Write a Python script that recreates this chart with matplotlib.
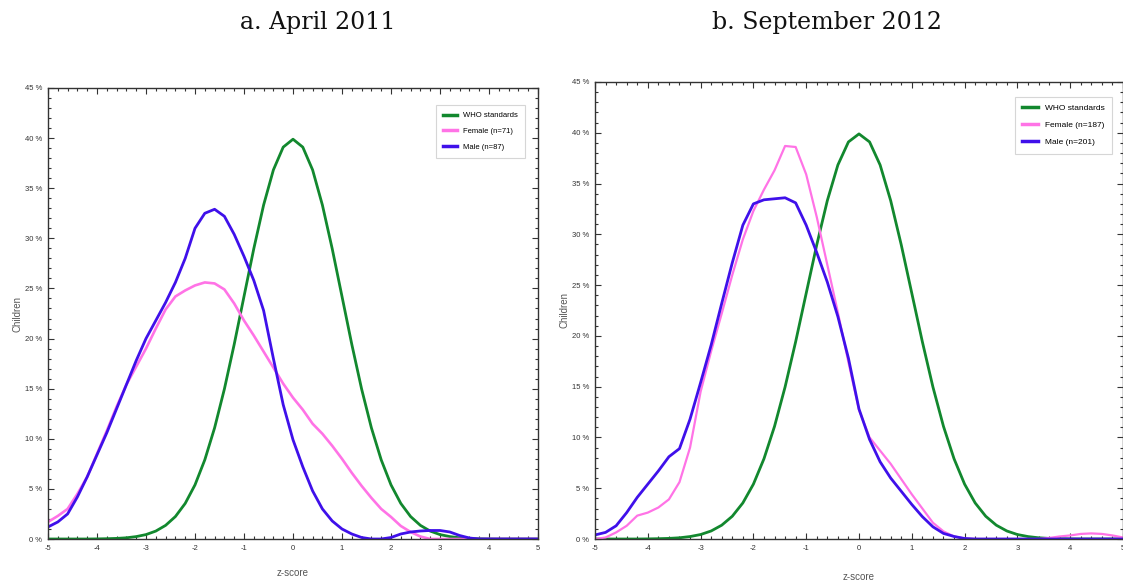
import numpy as np
import matplotlib.pyplot as plt
from matplotlib.ticker import MultipleLocator, FuncFormatter

# z-score grid, step 0.2 from -5 to 5
z = np.round(np.arange(-5, 5.01, 0.2), 1)

# WHO reference curve (% of children)
who = [0, 0, 0, 0, 0, 0.01, 0.03, 0.06, 0.12, 0.24, 0.44, 0.79, 1.36, 2.24, 3.55,
       5.4, 7.9, 11.09, 14.97, 19.42, 24.2, 28.97, 33.32, 36.83, 39.1, 39.89,
       39.1, 36.83, 33.32, 28.97, 24.2, 19.42, 14.97, 11.09, 7.9, 5.4,
       3.55, 2.24, 1.36, 0.79, 0.44, 0.24, 0.12, 0.06, 0.03, 0.01, 0, 0, 0, 0, 0]

# a. April 2011
fem_2011 = [1.7, 2.3, 3.0, 4.5, 6.2, 8.5, 10.8, 13.2, 15.4, 17.2, 19.0, 21.0, 22.9,
            24.2, 24.8, 25.3, 25.6, 25.5, 24.9, 23.5, 21.8, 20.3, 18.7, 17.1, 15.5,
            14.1, 12.9, 11.5, 10.5, 9.3, 8.0, 6.6, 5.3, 4.1, 3.0, 2.2, 1.3, 0.7, 0.25,
            0, 0, 0, 0, 0, 0, 0, 0, 0, 0, 0, 0]
male_2011 = [1.2, 1.7, 2.5, 4.2, 6.2, 8.4, 10.6, 13.0, 15.4, 17.8, 20.0, 21.8, 23.6,
             25.6, 28.0, 31.0, 32.5, 32.9, 32.2, 30.4, 28.2, 25.8, 22.8, 18.0, 13.4,
             9.9, 7.2, 4.8, 3.0, 1.8, 1.0, 0.5, 0.15, 0, 0, 0.15, 0.5, 0.7, 0.8,
             0.85, 0.85, 0.7, 0.35, 0.1, 0, 0, 0, 0, 0, 0, 0]

# b. September 2012
fem_2012 = [0, 0.15, 0.65, 1.3, 2.3, 2.6, 3.1, 3.9, 5.6, 9.0, 14.5, 18.5, 22.2,
            26.0, 29.5, 32.3, 34.4, 36.3, 38.7, 38.6, 35.9, 31.7, 27.0, 22.3, 17.4,
            12.7, 10.0, 8.7, 7.4, 5.9, 4.4, 3.0, 1.6, 0.75, 0.25, 0.05, 0, 0, 0, 0,
            0, 0, 0, 0.1, 0.25, 0.35, 0.5, 0.55, 0.5, 0.35, 0.15]
male_2012 = [0.4, 0.65, 1.3, 2.6, 4.1, 5.4, 6.7, 8.1, 8.9, 11.8, 15.4, 19.1, 23.2,
             27.2, 30.9, 33.0, 33.4, 33.5, 33.6, 33.1, 30.9, 28.2, 25.3, 21.9, 17.8,
             12.8, 9.8, 7.6, 6.0, 4.7, 3.4, 2.2, 1.2, 0.55, 0.25, 0.05, 0, 0, 0, 0,
             0, 0, 0, 0, 0, 0, 0, 0, 0, 0, 0]

panels = [
    ("a. April 2011", fem_2011, male_2011, "Female (n=71)", "Male (n=87)"),
    ("b. September 2012", fem_2012, male_2012, "Female (n=187)", "Male (n=201)"),
]

GREEN = "#12882e"
PINK = "#ff73e6"
BLUE = "#3f10ea"

plt.rcParams['font.family'] = ['Liberation Sans', 'DejaVu Sans']

fig = plt.figure(figsize=(11.23, 5.81), dpi=100)
W, H = 1123, 581

# axes boxes in pixels: left, right, top, bottom
boxes = [(48, 538, 88, 539), (595, 1123, 82, 539)]
title_x = [318, 827]
legend_anchor = [(525, 105), (1112, 97)]
legend_size = [5.5, 6.0]
xlabel_pad = [12, 15]

for i, (title, fem, male, flab, mlab) in enumerate(panels):
    l, r, t, b = boxes[i]
    ax = fig.add_axes([l / W, 1 - b / H, (r - l) / W, (b - t) / H])
    ax.plot(z, who, color=GREEN, lw=2.0, label="WHO standards")
    ax.plot(z, fem, color=PINK, lw=1.9 if i == 0 else 1.6, label=flab)
    ax.plot(z, male, color=BLUE, lw=2.0, label=mlab)

    ax.set_xlim(-5, 5)
    ax.set_ylim(0, 45)
    ax.xaxis.set_major_locator(MultipleLocator(1))
    ax.xaxis.set_minor_locator(MultipleLocator(0.2))
    ax.yaxis.set_major_locator(MultipleLocator(5))
    ax.yaxis.set_minor_locator(MultipleLocator(1))
    ax.yaxis.set_major_formatter(FuncFormatter(lambda v, p: f"{v:.0f} %"))
    ax.xaxis.set_major_formatter(FuncFormatter(lambda v, p: f"{v:.0f}"))
    ax.tick_params(which='both', direction='in', top=True, right=True,
                   colors='#333333', labelsize=5.5, width=0.8)
    ax.tick_params(which='major', length=4, pad=4)
    ax.tick_params(which='minor', length=2)
    for s in ax.spines.values():
        s.set_color('#333333')
        s.set_linewidth(1.0)

    ax.set_ylabel("Children", fontsize=7, color='#555555', labelpad=1.5)
    ax.set_xlabel("z-score", fontsize=7, color='#555555', labelpad=xlabel_pad[i])

    lx, ly = legend_anchor[i]
    leg = ax.legend(loc='upper right', bbox_to_anchor=(lx / W, 1 - ly / H),
                    bbox_transform=fig.transFigure, fontsize=legend_size[i],
                    frameon=True, fancybox=False, handlelength=1.9,
                    labelspacing=1.1, borderpad=0.9, handletextpad=0.8,
                    borderaxespad=0)
    leg.get_frame().set_edgecolor('#cccccc')
    leg.get_frame().set_linewidth(0.8)
    for line in leg.get_lines():
        line.set_linewidth(2.5)

    fig.text(title_x[i] / W, 1 - 22 / H, title, ha='center', va='center',
             fontsize=17, family='DejaVu Serif', color='#111111')

fig.savefig("out.png", dpi=100)
